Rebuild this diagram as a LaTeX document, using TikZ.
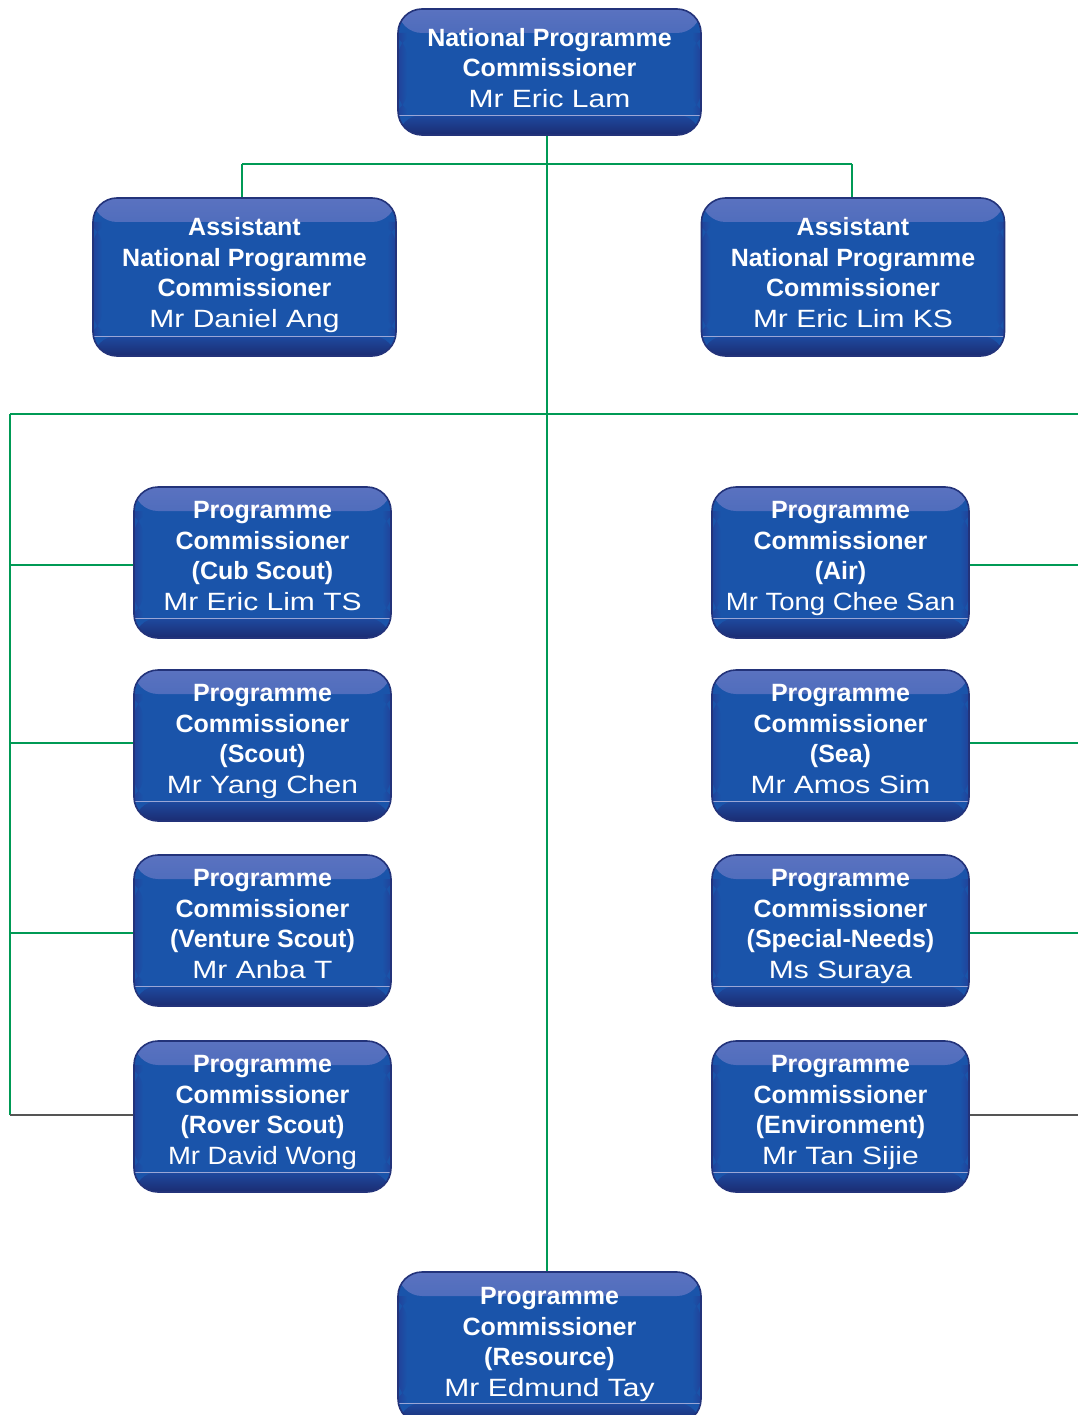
\documentclass[tikz,border=0pt]{standalone}
\usepackage{fontspec}
\setmainfont{Liberation Sans}
\newfontfamily\namefont[FakeStretch=1.2]{Liberation Sans}
\newfontfamily\namefontn[FakeStretch=1.1]{Liberation Sans}
\definecolor{boxmid}{HTML}{1A54AA}
\definecolor{boxtop}{HTML}{5A72C0}
\definecolor{boxband}{HTML}{1E4AA0}
\definecolor{boxbot}{HTML}{1B2C72}
\definecolor{boxside}{HTML}{21429A}
\definecolor{boxedge}{HTML}{23337A}
\definecolor{boxrim}{HTML}{9AA6D6}
\definecolor{lineg}{HTML}{009A55}
\definecolor{lineh}{HTML}{555555}
\newcommand{\bl}[1]{\textbf{\strut #1}}
\newcommand{\nm}[1]{{\namefont\strut #1}}
\newcommand{\nmn}[1]{{\namefontn\strut #1}}
\begin{document}
\begin{tikzpicture}[x=1pt,y=-1pt,
  orgbox/.style={draw=boxedge, line width=1.6pt, rounded corners=24pt, fill=boxmid,
    path picture={
      \shade[top color=boxtop, bottom color=boxmid]
        (path picture bounding box.north west) rectangle ([yshift=-24pt]path picture bounding box.north east);
      \shade[left color=boxside, right color=boxmid]
        ([yshift=-24pt]path picture bounding box.north west) rectangle ([xshift=9pt,yshift=20pt]path picture bounding box.south west);
      \shade[right color=boxside, left color=boxmid]
        ([xshift=-9pt,yshift=-24pt]path picture bounding box.north east) rectangle ([yshift=20pt]path picture bounding box.south east);
      \shade[top color=boxband, bottom color=boxbot]
        ([yshift=20pt]path picture bounding box.south west) rectangle (path picture bounding box.south east);
      \draw[boxrim, line width=0.7pt]
        ([yshift=20pt]path picture bounding box.south west) -- ([yshift=20pt]path picture bounding box.south east);
    }},
  txt/.style={text=white, align=center, font=\fontsize{25}{30.5}\selectfont, inner sep=0pt},
  conn/.style={draw=lineg, line width=2.6pt},
  conng/.style={draw=lineh, line width=2.6pt}]
\clip (0,0) rectangle (1078,1415);
\useasboundingbox (0,0) rectangle (1078,1415);
\fill[white] (0,0) rectangle (1078,1415);

% boxes
\node[orgbox, minimum width=303pt, minimum height=126pt] (npc) at (549.5,72) {};
\node[orgbox, minimum width=303pt, minimum height=158pt] (anl) at (244.5,277) {};
\node[orgbox, minimum width=303pt, minimum height=158pt] (anr) at (853,277) {};
\node[orgbox, minimum width=257pt, minimum height=151pt] (l1) at (262.5,562.5) {};
\node[orgbox, minimum width=257pt, minimum height=151pt] (l2) at (262.5,745.5) {};
\node[orgbox, minimum width=257pt, minimum height=151pt] (l3) at (262.5,930.5) {};
\node[orgbox, minimum width=257pt, minimum height=151pt] (l4) at (262.5,1116.5) {};
\node[orgbox, minimum width=257pt, minimum height=151pt] (r1) at (840.5,562.5) {};
\node[orgbox, minimum width=257pt, minimum height=151pt] (r2) at (840.5,745.5) {};
\node[orgbox, minimum width=257pt, minimum height=151pt] (r3) at (840.5,930.5) {};
\node[orgbox, minimum width=257pt, minimum height=151pt] (r4) at (840.5,1116.5) {};
\node[orgbox, minimum width=303pt, minimum height=151pt] (res) at (549.5,1347.5) {};

% coordinates for connector network
\coordinate (hA) at (547,164);
\coordinate (hAL) at (242,164);
\coordinate (hAR) at (852,164);
\coordinate (hBL) at (10,414);
\coordinate (hBR) at (1078,414);
\coordinate (vL1) at (10,565);
\coordinate (vL2) at (10,743);
\coordinate (vL3) at (10,933);
\coordinate (vL4) at (10,1115);
\coordinate (vR1) at (1078,565);
\coordinate (vR2) at (1078,743);
\coordinate (vR3) at (1078,933);
\coordinate (vR4) at (1078,1115);

% connectors (behind boxes)
\begin{scope}[blend mode=normal]
\draw[conn] (hA |- npc.south) -- (hA);
\draw[conn] (hAL) -- (hAR);
\draw[conn] (hAL) -- (hAL |- anl.north);
\draw[conn] (hAR) -- (hAR |- anr.north);
\draw[conn] (hA) -- (hA |- res.north);
\draw[conn] (hBL) -- (hBR);
\draw[conn] (hBL) -- (vL4);
\draw[conn] (vL1) -- (vL1 -| l1.west);
\draw[conn] (vL2) -- (vL2 -| l2.west);
\draw[conn] (vL3) -- (vL3 -| l3.west);
\draw[conng] (vL4) -- (vL4 -| l4.west);
\draw[conn] (vR1 -| r1.east) -- (vR1);
\draw[conn] (vR2 -| r2.east) -- (vR2);
\draw[conn] (vR3 -| r3.east) -- (vR3);
\draw[conng] (vR4 -| r4.east) -- (vR4);
\end{scope}

% texts
\node[txt] (npc-t) at ([yshift=1.5pt]npc.center) {\bl{National Programme}\\\bl{Commissioner}\\\nm{Mr Eric Lam}};
\node[txt] (anl-t) at ([yshift=1.5pt]anl.center) {\bl{Assistant}\\\bl{National Programme}\\\bl{Commissioner}\\\nm{Mr Daniel Ang}};
\node[txt] (anr-t) at ([yshift=1.5pt]anr.center) {\bl{Assistant}\\\bl{National Programme}\\\bl{Commissioner}\\\nm{Mr Eric Lim KS}};
\node[txt] (l1-t) at ([yshift=4pt]l1.center) {\bl{Programme}\\\bl{Commissioner}\\\bl{(Cub Scout)}\\\nm{Mr Eric Lim TS}};
\node[txt] (l2-t) at ([yshift=4pt]l2.center) {\bl{Programme}\\\bl{Commissioner}\\\bl{(Scout)}\\\nm{Mr Yang Chen}};
\node[txt] (l3-t) at ([yshift=4pt]l3.center) {\bl{Programme}\\\bl{Commissioner}\\\bl{(Venture Scout)}\\\nm{Mr Anba T}};
\node[txt] (l4-t) at ([yshift=4pt]l4.center) {\bl{Programme}\\\bl{Commissioner}\\\bl{(Rover Scout)}\\\nmn{Mr David Wong}};
\node[txt] (r1-t) at ([yshift=4pt]r1.center) {\bl{Programme}\\\bl{Commissioner}\\\bl{(Air)}\\\nmn{Mr Tong Chee San}};
\node[txt] (r2-t) at ([yshift=4pt]r2.center) {\bl{Programme}\\\bl{Commissioner}\\\bl{(Sea)}\\\nm{Mr Amos Sim}};
\node[txt] (r3-t) at ([yshift=4pt]r3.center) {\bl{Programme}\\\bl{Commissioner}\\\bl{(Special-Needs)}\\\nm{Ms Suraya}};
\node[txt] (r4-t) at ([yshift=4pt]r4.center) {\bl{Programme}\\\bl{Commissioner}\\\bl{(Environment)}\\\nm{Mr Tan Sijie}};
\node[txt] (res-t) at ([yshift=3pt]res.center) {\bl{Programme}\\\bl{Commissioner}\\\bl{(Resource)}\\\nm{Mr Edmund Tay}};
\end{tikzpicture}
\end{document}
